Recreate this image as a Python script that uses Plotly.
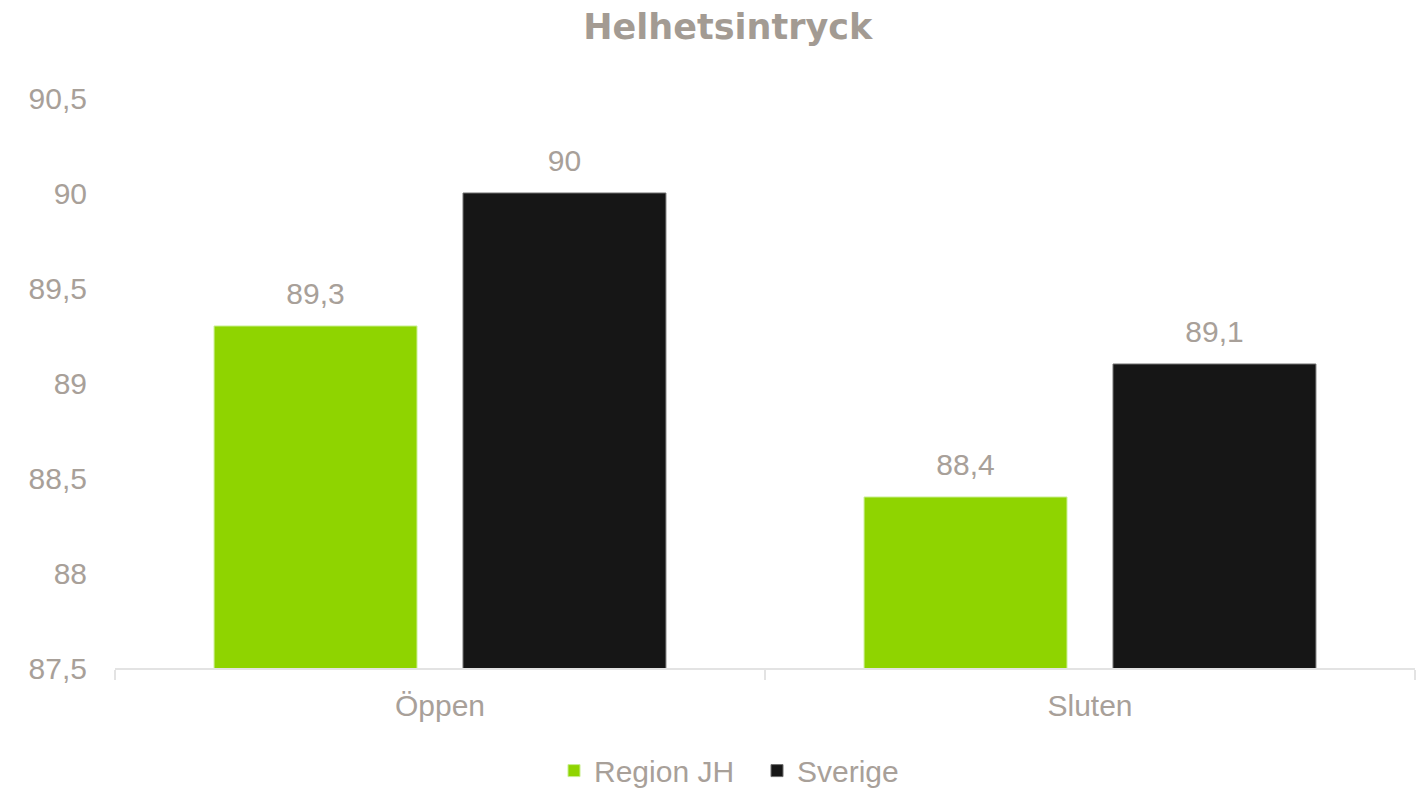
import plotly.graph_objects as go

categories = ["Öppen", "Sluten"]
region_jh = [89.3, 88.4]
sverige = [90.0, 89.1]
series_names = ["Region JH", "Sverige"]
y_ticks = [87.5, 88, 88.5, 89, 89.5, 90, 90.5]


def fmt(v):
    s = ("%g" % v)
    return s.replace(".", ",")


text_color = "#A8A099"
font_family = "Liberation Sans, Arial, sans-serif"
colors = ["#8FD400", "#161616"]
line_colors = ["#C8EE90", "#6E6E6E"]

fig = go.Figure()
for name, vals, col, lc in zip(series_names, [region_jh, sverige], colors, line_colors):
    fig.add_trace(go.Bar(
        x=categories, y=vals, name=name,
        marker=dict(color=col, line=dict(color=lc, width=1)),
        hoverinfo="x+y",
    ))
# value labels, grouped like the bars
for name, vals in zip(series_names, [region_jh, sverige]):
    fig.add_trace(go.Scatter(
        x=categories, y=vals, mode="markers+text", showlegend=False,
        text=[fmt(v) for v in vals], textposition="top center",
        marker=dict(size=22, opacity=0),
        textfont=dict(size=30, color=text_color, family=font_family),
        cliponaxis=False, hoverinfo="skip", name=name,
    ))

fig.update_layout(
    width=1417, height=783,
    paper_bgcolor="white", plot_bgcolor="white",
    separators=", ",
    barmode="group", bargap=0.234, bargroupgap=0.185,
    scattermode="group", scattergap=0.234,
    margin=dict(l=107, r=10, t=90, b=123, autoexpand=False),
    font=dict(family=font_family, size=30, color=text_color),
    title=dict(text="<b>Helhetsintryck</b>", x=0.508, xanchor="center", y=0.976, yanchor="middle",
               font=dict(family="DejaVu Sans, sans-serif", size=35, color="#A39B93")),
    legend=dict(orientation="h", x=(554 - 115) / 1300, xanchor="left", y=-0.18, yanchor="middle",
                font=dict(size=30, color=text_color, family=font_family),
                itemwidth=30, traceorder="normal", entrywidth=158),
    showlegend=True,
)
fig.update_xaxes(
    type="category", showline=True, linecolor="#E3E3E3", linewidth=2,
    ticks="outside", tickson="boundaries", ticklen=10, tickcolor="#E3E3E3", tickwidth=2,
    showgrid=False, tickfont=dict(size=30, color=text_color), ticklabelstandoff=10,
    automargin=False,
)
fig.update_yaxes(
    range=[87.5, 90.5], tickvals=y_ticks, ticktext=[fmt(v) for v in y_ticks],
    showgrid=False, zeroline=False, showline=False, ticks="",
    tickfont=dict(size=30, color=text_color), ticklabelstandoff=27,
    automargin=False,
)

fig.write_html("out.html")
